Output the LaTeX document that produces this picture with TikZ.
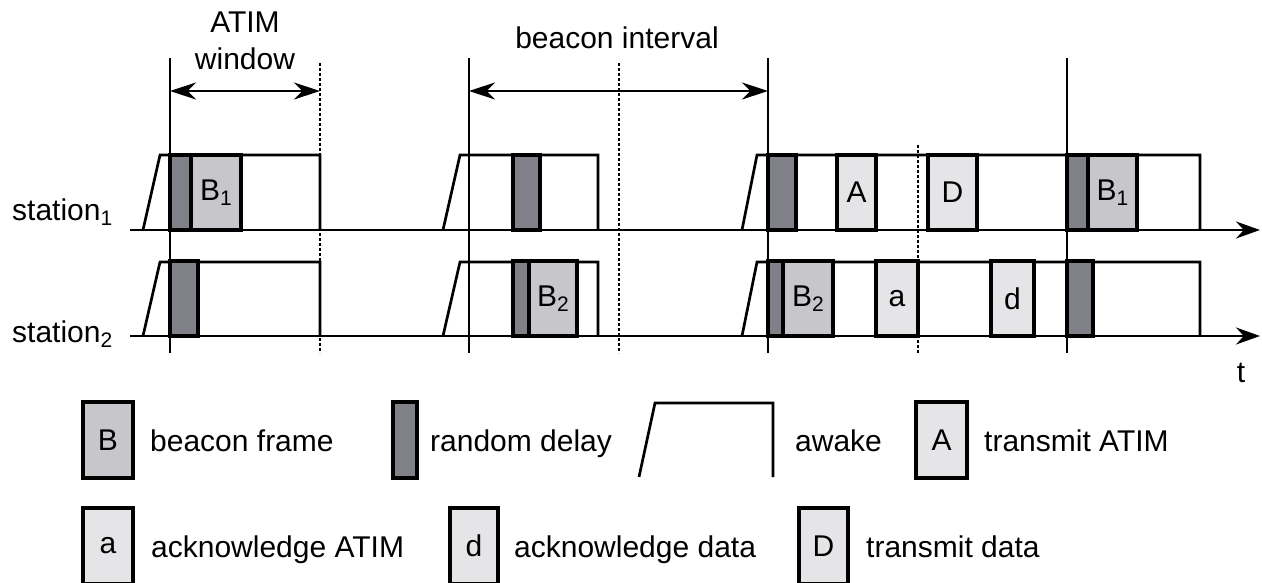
\documentclass[tikz,border=0pt]{standalone}
\usepackage{fontspec}
\setmainfont{Liberation Sans}
\usetikzlibrary{arrows.meta,positioning}
\definecolor{delaygray}{HTML}{808088}
\definecolor{beacongray}{HTML}{C6C6CB}
\definecolor{msggray}{HTML}{E5E5E8}
\newcommand{\idx}[1]{\raisebox{-5pt}{\fontsize{21}{21}\selectfont #1}}

\begin{document}
\begin{tikzpicture}[
  x=1pt,y=-1pt,
  font=\fontsize{30}{36}\selectfont,
  slot/.style={draw,line width=4.2pt,inner sep=0pt,outer sep=0pt,
               anchor=south west,minimum height=75pt},
  rdelay/.style={slot,fill=delaygray},
  bframe/.style={slot,fill=beacongray},
  msg/.style={slot,fill=msggray},
  awake/.style={line width=2.7pt,line join=miter},
  axis/.style={line width=2pt,-{Stealth[length=24pt,width=17pt]}},
  span/.style={line width=1.3pt,
               {Stealth[length=26pt,width=17pt]}-{Stealth[length=26pt,width=17pt]}},
  tick/.style={line width=1.5pt},
  half/.style={line width=1.8pt,dash pattern=on 3pt off 2pt},
  caption/.style={anchor=base west,inner sep=0pt}
]
  \useasboundingbox (0,0) rectangle (1262,583);
  \clip (0,0) rectangle (1262,583);

  \foreach \x in {170,469,768,1067}
    \draw[tick] (\x,58) -- (\x,353);
  \foreach \x/\top in {320/63,619/63,918/145}
    \draw[half] (\x,\top) -- (\x,353);

  \coordinate (winL) at (170,91);
  \coordinate (winR) at (320,91);
  \coordinate (bcnL) at (469,91);
  \coordinate (bcnR) at (768,91);
  \draw[span] (winL) -- (winR);
  \draw[span] (bcnL) -- (bcnR);
  \node[anchor=base] (atim) at (245,33) {ATIM};
  \node[anchor=base] (window) at (245,70) {window};
  \node[anchor=base] (interval) at (617,49) {beacon interval};

  \coordinate (ax1s) at (130,230);
  \coordinate (ax1e) at (1260,230);
  \coordinate (ax2s) at (130,336);
  \coordinate (ax2e) at (1260,336);
  \draw[axis] (ax1s) -- (ax1e);
  \draw[axis] (ax2s) -- (ax2e);
  \node[caption] (sta1) at (12,221) {station\idx{1}};
  \node[caption] (sta2) at (12,342) {station\idx{2}};
  \node[anchor=base] (time) at (1241,382) {t};

  \foreach \a/\b/\c in {143/160/320,443/460/598,742/757/1200}{
    \draw[awake] (\a,230) -- (\b,155) -- (\c,155) -- (\c,230);
    \draw[awake] (\a,336) -- (\b,262) -- (\c,262) -- (\c,336);
  }

  \foreach \kind/\l/\r/\txt/\nm in {rdelay/170/191//st1d1,bframe/191/241/B\idx{1}/st1b1,
      rdelay/513/540//st1d2,rdelay/768/796//st1d3,msg/837/876/A/st1atim,
      msg/928/977/D/st1data,rdelay/1067/1088//st1d4,bframe/1088/1137/B\idx{1}/st1b4}
    \node[\kind,minimum width={(\r-\l)*1pt}] (\nm) at (\l,230) {\txt};

  \foreach \kind/\l/\r/\txt/\nm in {rdelay/170/198//st2d1,rdelay/513/529//st2d2,
      bframe/529/577/B\idx{2}/st2b2,rdelay/768/783//st2d3,bframe/783/833/B\idx{2}/st2b3,
      msg/876/918/a/st2ack,msg/991/1034/d/st2dack,rdelay/1067/1093//st2d4}
    \node[\kind,minimum width={(\r-\l)*1pt}] (\nm) at (\l,336) {\txt};

  \node[bframe,minimum width=50pt,minimum height=76pt] (keyB) at (83,478) {B};
  \node[caption] (txtB) at (150,451) {beacon frame};
  \node[rdelay,minimum width=24pt,minimum height=76pt] (keyR) at (393,478) {};
  \node[caption] (txtR) at (430,451) {random delay};
  \draw[awake] (639,477) -- (655,403) -- (773,403) -- (773,477);
  \node[caption] (txtW) at (795,451) {awake};
  \node[msg,minimum width=51pt,minimum height=76pt] (keyA) at (916,478) {A};
  \node[caption] (txtA) at (984,451) {transmit ATIM};

  \node[msg,anchor=north west,minimum width=50pt,minimum height=76pt] (keya) at (83,508) {a};
  \node[caption] (txta) at (151,557) {acknowledge ATIM};
  \node[msg,anchor=north west,minimum width=48pt,minimum height=76pt] (keyd) at (450,508) {d};
  \node[caption] (txtd) at (514,557) {acknowledge data};
  \node[msg,anchor=north west,minimum width=49pt,minimum height=76pt] (keyD) at (799,508) {D};
  \node[caption] (txtD) at (866,557) {transmit data};
\end{tikzpicture}
\end{document}
